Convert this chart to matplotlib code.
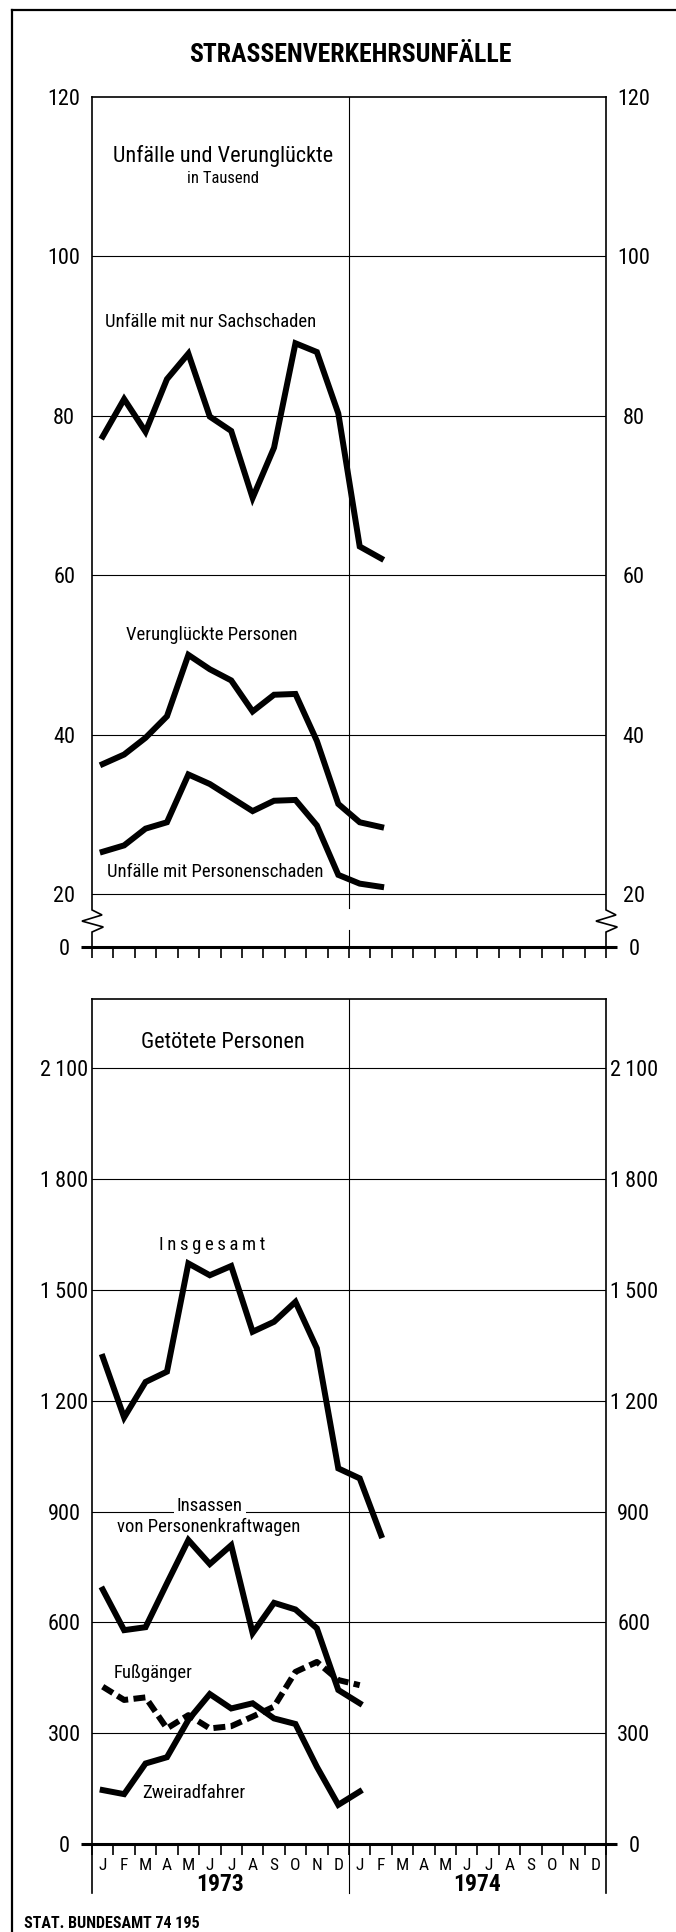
import matplotlib
matplotlib.use("Agg")
import matplotlib.pyplot as plt
from matplotlib import font_manager as fm
from matplotlib.lines import Line2D

# === Schrift: schmale Grotesk, falls vorhanden
names = {f.name for f in fm.fontManager.ttflist}
FONT = "DejaVu Sans"
for cand in ["Liberation Sans Narrow", "Roboto Condensed", "Open Sans Condensed", "Liberation Sans"]:
    if cand in names:
        FONT = cand
        break
plt.rcParams["font.family"] = [FONT, "DejaVu Sans"]

# === Daten (Monate Jan 1973 .. Feb 1974)
months = ["J", "F", "M", "A", "M", "J", "J", "A", "S", "O", "N", "D"] * 2
years = ["1973", "1974"]

# Unfälle und Verunglückte in Tausend
sachschaden = [77.4, 82.1, 78.0, 84.6, 87.8, 79.9, 78.1, 69.7, 76.0, 89.1, 88.0, 80.3, 63.6, 62.1]
verunglueckte = [36.3, 37.5, 39.6, 42.3, 50.0, 48.2, 46.8, 42.9, 45.0, 45.1, 39.2, 31.3, 29.0, 28.4]
personenschaden = [25.3, 26.1, 28.2, 29.0, 35.0, 33.8, 32.1, 30.4, 31.7, 31.8, 28.6, 22.4, 21.3, 20.9]

# Getötete Personen
insgesamt = [1319, 1155, 1251, 1279, 1572, 1540, 1565, 1387, 1414, 1468, 1342, 1017, 990, 836]
insassen_pkw = [689, 579, 587, 706, 823, 758, 809, 571, 653, 635, 584, 417, 381]
fussgaenger = [426, 390, 397, 313, 349, 313, 319, 345, 372, 466, 493, 444, 430]
zweiradfahrer = [146, 135, 218, 235, 336, 406, 367, 381, 340, 325, 209, 106, 142]

top_ticks = [20, 40, 60, 80, 100, 120]
bot_ticks = [300, 600, 900, 1200, 1500, 1800, 2100]

W, H = 676, 1932
LW = 4.3
GRID = 0.8
SPINE = 1.2

fig = plt.figure(figsize=(W / 100, H / 100), dpi=100)


def xs(n):
    return [i + 0.5 for i in range(n)]


def px_axes(l, r, top, bottom):
    return fig.add_axes([l / W, 1 - bottom / H, (r - l) / W, (bottom - top) / H])


def setup_x(ax, base, labels=False):
    ax.set_xlim(0, 24)
    ax.set_xticks(range(25))
    ax.set_xticklabels([])
    ax.tick_params(axis="x", which="major", direction="out", length=8, width=SPINE)
    if labels:
        ax.set_xticks(xs(24), minor=True)
        ax.set_xticklabels(months, minor=True, fontsize=12.5)
        ax.tick_params(axis="x", which="minor", length=0, pad=10)
    ax.spines["bottom"].set_visible(False)
    # dicke Nulllinie
    ax.plot([-0.52, 24.5], [base, base], color="black", lw=2.2, clip_on=False,
            solid_capstyle="butt")


def setup_y(ax, ticks, labels):
    ax.set_yticks(ticks)
    ax.set_yticklabels(labels, fontsize=16)
    ax.tick_params(axis="y", length=0, labelleft=True, labelright=True, pad=20)
    for t in ax.yaxis.get_major_ticks():
        t.label1.set_ha("center")
        t.label2.set_ha("center")


# ================= oberes Diagramm =================
ax1 = px_axes(92, 606, 97, 947)
y0_top = 13.35
ax1.set_ylim(y0_top, 120)
setup_x(ax1, y0_top)
setup_y(ax1, [y0_top] + top_ticks, ["0"] + [str(v) for v in top_ticks])
for v in top_ticks[:-1]:
    ax1.axhline(v, color="black", lw=GRID)
ax1.spines["top"].set_linewidth(SPINE)
for s in ["left", "right"]:
    ax1.spines[s].set_visible(False)

# Achsen mit Bruchzeichen
for x0 in [0, 24]:
    zx = [x0, x0, x0 + 0.47, x0 - 0.47, x0 + 0.53, x0, x0]
    zy = [120, 18.0, 17.37, 16.6, 15.86, 15.23, y0_top]
    ax1.plot(zx, zy, color="black", lw=SPINE, clip_on=False, solid_joinstyle="miter")
ax1.plot([12, 12], [120, 18.24], color="black", lw=GRID)
ax1.plot([12, 12], [15.48, y0_top], color="black", lw=GRID)

ax1.plot(xs(len(sachschaden)), sachschaden, color="black", lw=LW, solid_joinstyle="miter")
ax1.plot(xs(len(verunglueckte)), verunglueckte, color="black", lw=LW, solid_joinstyle="miter")
ax1.plot(xs(len(personenschaden)), personenschaden, color="black", lw=LW, solid_joinstyle="miter")

ax1.text(6.12, 112.6, "Unfälle und Verunglückte", ha="center", va="center", fontsize=16)
ax1.text(6.12, 109.8, "in Tausend", ha="center", va="center", fontsize=12)
ax1.text(5.56, 91.8, "Unfälle mit nur Sachschaden", ha="center", va="center", fontsize=13.5)
ax1.text(5.6, 52.5, "Verunglückte Personen", ha="center", va="center", fontsize=13.5)
ax1.text(5.74, 22.76, "Unfälle mit Personenschaden", ha="center", va="center", fontsize=13.5)

# ================= unteres Diagramm =================
ax2 = px_axes(92, 606, 999, 1844)
ax2.set_ylim(0, 2288)
setup_x(ax2, 0, labels=True)
setup_y(ax2, [0] + bot_ticks, ["0"] + [f"{v // 1000}\u2009{v % 1000:03d}" if v >= 1000 else str(v)
                                       for v in bot_ticks])
for v in bot_ticks:
    ax2.axhline(v, color="black", lw=GRID)
ax2.spines["top"].set_linewidth(SPINE)
for s in ["left", "right"]:
    ax2.spines[s].set_linewidth(SPINE)
for x0, lw in [(0, SPINE), (12, GRID), (24, SPINE)]:
    ax2.plot([x0, x0], [0, -133], color="black", lw=lw, clip_on=False)
ax2.axvline(12, color="black", lw=GRID)

ax2.plot(xs(len(insgesamt)), insgesamt, color="black", lw=LW, solid_joinstyle="miter")
ax2.plot(xs(len(insassen_pkw)), insassen_pkw, color="black", lw=LW, solid_joinstyle="miter")
ax2.plot(xs(len(fussgaenger)), fussgaenger, color="black", lw=LW, dashes=(2.0, 0.9))
ax2.plot(xs(len(zweiradfahrer)), zweiradfahrer, color="black", lw=LW, solid_joinstyle="miter")

ax2.text(6.1, 2171, "Getötete Personen", ha="center", va="center", fontsize=16)
ax2.text(5.6, 1621, "\u2009".join("Insgesamt"), ha="center", va="center", fontsize=13.5)
ax2.text(5.5, 915, "Insassen", ha="center", va="center", fontsize=13.5,
         bbox=dict(fc="white", ec="none", pad=2))
ax2.text(5.46, 858, "von Personenkraftwagen", ha="center", va="center", fontsize=13.5)
ax2.text(2.85, 463, "Fußgänger", ha="center", va="center", fontsize=13.5)
ax2.text(4.76, 138, "Zweiradfahrer", ha="center", va="center", fontsize=13.5)

for i, yr in enumerate(years):
    ax2.text(6 + 12 * i, -111, yr, ha="center", va="center", fontsize=17, fontweight="bold")

# === Überschrift, Quelle, Rahmen
fig.text(350 / W, 1 - 55 / H, "STRASSENVERKEHRSUNFÄLLE", ha="center", va="center",
         fontsize=18.5, fontweight="bold")
fig.text(24 / W, 1 - 1923 / H, "STAT. BUNDESAMT 74 195", ha="left", va="center",
         fontsize=11.5, fontweight="bold")
fig.add_artist(Line2D([12 / W, 12 / W], [0, 1 - 10 / H], color="black", lw=1.6))
fig.add_artist(Line2D([12 / W, 1], [1 - 10 / H, 1 - 10 / H], color="black", lw=1.6))

fig.savefig("out.png", dpi=100)
